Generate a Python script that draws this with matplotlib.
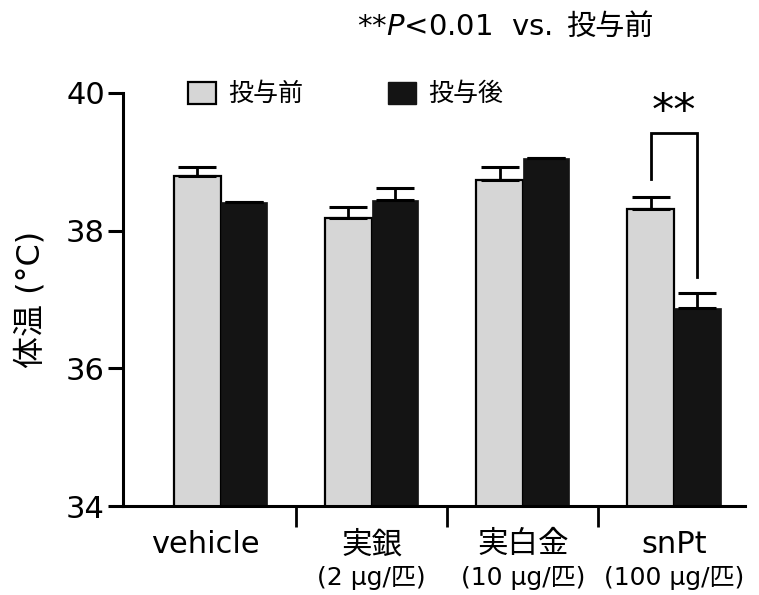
import numpy as np
import matplotlib as mpl
import matplotlib.pyplot as plt
from matplotlib.patches import Patch
# -------------------------------------------------------------------------------------------------

mpl.use('AGG')
plt.rcParams['font.family'] = ['DejaVu Sans', 'Noto Sans CJK JP']

# Data
groups = ['vehicle', '実銀', '実白金', 'snPt']
doses = ['', '(2 µg/匹)', '(10 µg/匹)', '(100 µg/匹)']
pre = [38.80, 38.18, 38.73, 38.32]
pre_err = [0.12, 0.16, 0.19, 0.17]
post = [38.41, 38.44, 39.05, 36.87]
post_err = [0.0, 0.18, 0.0, 0.23]
series_labels = ['投与前', '投与後']
note_latin = '**$\\mathit{P}$<0.01  vs.'
note_cjk = '投与前'

pre_color = '#d6d6d6'
post_color = '#141414'
width = 0.308

(fig, ax) = plt.subplots(figsize=(7.59, 5.95), dpi=100, facecolor='white')
ax.set_position([123 / 759, 1 - 506 / 595, (745 - 123) / 759, (506 - 93) / 595])

x = np.arange(len(groups))

# Bars
ax.bar(x - width / 2, pre, width, color=pre_color, edgecolor='black',
	linewidth=1.6, zorder=2)
ax.bar(x + width / 2, post, width, color=post_color, edgecolor=post_color,
	linewidth=0.5, zorder=2)

# Upper error bars only
err_kw = dict(fmt='none', ecolor='black', elinewidth=2.0, capsize=14, capthick=2.2, zorder=3)
ax.errorbar(x - width / 2, pre, yerr=[np.zeros(len(pre)), pre_err], **err_kw)
ax.errorbar(x + width / 2, post, yerr=[np.zeros(len(post)), post_err], **err_kw)

# Axes styling
ax.set_ylim(34, 40)
ax.set_xlim(-0.646, 3.47)
for side in ('top', 'right'):
	ax.spines[side].set_visible(False)
for side in ('left', 'bottom'):
	ax.spines[side].set_linewidth(2.2)
	ax.spines[side].set_zorder(4)

ax.set_yticks([34, 36, 38, 40])
ax.tick_params(axis='y', direction='out', length=11, width=2.2, pad=2, labelsize=22)
ax.set_xticks([0.5, 1.5, 2.5])
ax.set_xticklabels([])
ax.tick_params(axis='x', direction='out', length=15, width=2.0)

ax.set_ylabel('体温 (°C)', fontsize=23, labelpad=14)

# Category labels, two lines
for (i, (name, dose)) in enumerate(zip(groups, doses)):
	xpos = i - 0.1 if i == 0 else i
	ax.annotate(name, xy=(xpos, 0), xycoords=('data', 'axes fraction'),
		xytext=(0, -28), textcoords='offset points', ha='center', va='center', fontsize=22)
	if dose:
		ax.annotate(dose, xy=(i, 0), xycoords=('data', 'axes fraction'),
			xytext=(0, -52), textcoords='offset points', ha='center', va='center', fontsize=18)

# Significance bracket
xl = 3 - width / 2
xr = 3 + width / 2
ax.plot([xl, xl, xr, xr], [38.75, 39.42, 39.42, 37.32], color='black', lw=2.0,
	solid_joinstyle='miter', clip_on=False, zorder=3)
ax.text(3, 39.72, '**', ha='center', va='center', fontsize=32, clip_on=False)

# Legend
handles = [
	Patch(facecolor=pre_color, edgecolor='black', linewidth=1.6),
	Patch(facecolor=post_color, edgecolor=post_color),
]
ax.legend(handles, series_labels, loc='center left', bbox_to_anchor=(188 / 759, 1 - 94 / 595),
	bbox_transform=fig.transFigure, ncol=2, frameon=False, fontsize=18,
	handlelength=1.1, handleheight=1.0, handletextpad=0.5, columnspacing=3.4,
	borderpad=0, borderaxespad=0)

# Note at top: CJK part as plain text, Latin part with mathtext italic P
t_cjk = fig.text(653 / 759, 1 - 27 / 595, note_cjk, ha='right', va='center', fontsize=21)
fig.canvas.draw()
bb = t_cjk.get_window_extent()
fig.text((bb.x0 - 14) / 759, 1 - 27 / 595, note_latin, ha='right', va='center', fontsize=21)

fig.savefig('out.png', dpi=100)
plt.close()
